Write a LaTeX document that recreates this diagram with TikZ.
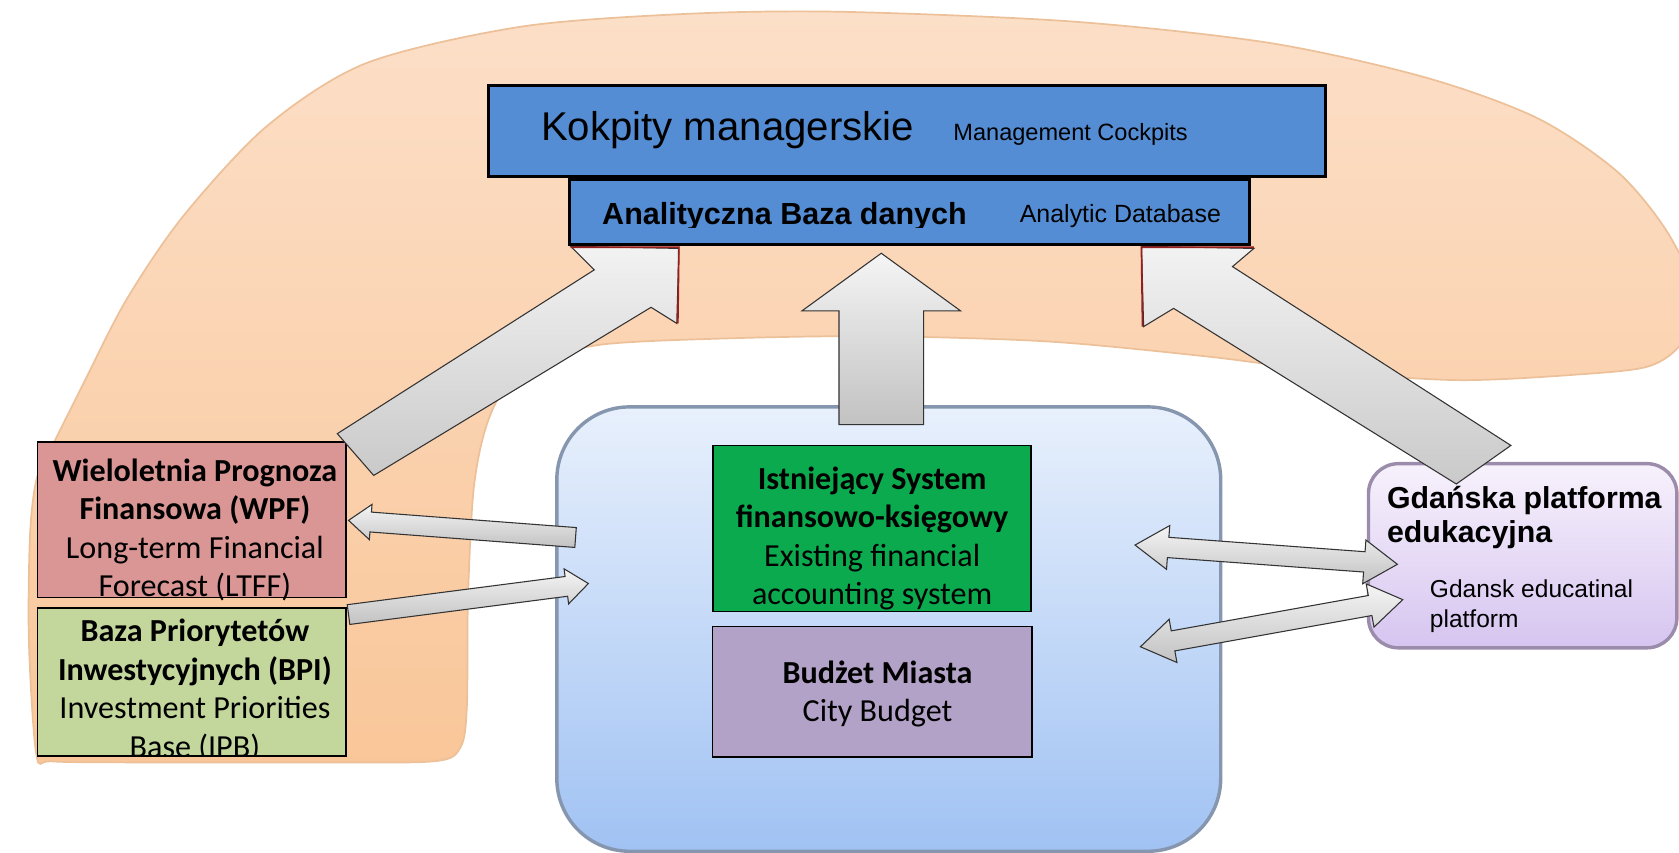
\documentclass[tikz,border=0pt]{standalone}
\usepackage{fontspec}
\setmainfont{Liberation Sans}
\newfontfamily\calibri{Carlito}
\usetikzlibrary{calc}
\usetikzlibrary{positioning}
\usetikzlibrary{shapes.arrows}
\definecolor{barblue}{RGB}{84,141,212}
\definecolor{wpfred}{RGB}{217,150,148}
\definecolor{bpigreen}{RGB}{195,214,155}
\definecolor{sysgreen}{RGB}{12,170,78}
\definecolor{budzetpurple}{RGB}{179,162,199}
\definecolor{peachtop}{RGB}{252,223,200}
\definecolor{peachbot}{RGB}{249,198,152}
\definecolor{peachline}{RGB}{236,192,152}
\definecolor{skytop}{RGB}{232,240,252}
\definecolor{skybot}{RGB}{160,194,243}
\definecolor{skyline}{RGB}{135,150,175}
\definecolor{lilactop}{RGB}{247,241,252}
\definecolor{lilacbot}{RGB}{214,197,240}
\definecolor{lilacline}{RGB}{155,140,172}
\definecolor{cutred}{RGB}{150,30,30}
\tikzset{bluebar/.style={rectangle, draw=black, line width=1.2pt, fill=barblue, inner sep=0pt},
infobox/.style={rectangle, draw=black, line width=0.8pt, inner sep=0pt},
boxtext/.style={inner sep=0pt, align=center, font=\calibri\fontsize{15pt}{18pt}\selectfont},
blob/.style={draw=peachline, line width=0.8pt, top color=peachtop, bottom color=peachbot},
sysframe/.style={rectangle, rounded corners=34pt, draw=skyline, line width=1.6pt,
  top color=skytop, bottom color=skybot, inner sep=0pt},
gdframe/.style={rectangle, rounded corners=14pt, draw=lilacline, line width=1.6pt,
  top color=lilactop, bottom color=lilacbot, inner sep=0pt},
fatarrow/.style={single arrow, draw=black!80, line width=0.5pt, inner xsep=0pt,
  top color=gray!8, bottom color=gray!48, minimum width=0pt},
thinarrow/.style={fatarrow, inner ysep=4.4pt, single arrow head extend=3.6pt,
  single arrow tip angle=77},
twoway/.style={double arrow, draw=black!80, line width=0.5pt, inner xsep=0pt,
  inner ysep=4.5pt, top color=gray!8, bottom color=gray!48, minimum width=0pt,
  double arrow head extend=5.5pt, double arrow tip angle=67},
fatpoly/.style={draw=black!80, line width=0.5pt, top color=gray!10, bottom color=gray!42},
headcut/.style={draw=cutred, line width=0.8pt}}
\newcommand{\blockarrow}[4]{
\path let \p1=($(#4)-(#3)$), \n1={atan2(\y1,\x1)}, \n2={veclen(\x1,\y1)} in
  node (#1) [#2, anchor=tail, rotate=\n1, minimum height=\n2] at (#3) {};
}
\newcommand{\twowayarrow}[4]{
\path let \p1=($(#4)-(#3)$), \n1={atan2(\y1,\x1)}, \n2={veclen(\x1,\y1)} in
  node (#1) [#2, rotate=\n1, minimum height=\n2] at ($(#3)!0.5!(#4)$) {};
}

\begin{document}
\begin{tikzpicture}[x=0.5pt,y=-0.5pt]
  \useasboundingbox (0,0) rectangle (1568,796);

  \draw [blob] plot [smooth cycle, tension=0.5] coordinates {
    (34,705) (27,600) (28,500) (34,448) (47,420) (78,358) (118,280) (171,202)
    (249,118) (342,59) (486,25) (640,13) (785,11) (1000,20) (1185,40)
    (1330,72) (1435,110) (1510,160) (1556,215) (1582,272) (1572,318)
    (1540,342) (1470,350) (1361,355) (1240,347) (1128,333) (980,319)
    (820,314) (680,316) (560,322) (500,340) (468,368) (452,405) (442,460)
    (437,560) (436,660) (430,698) (405,711) (290,712) (120,712) (48,711)};

  \node (system) [sysframe, minimum width=310pt, minimum height=207.5pt] at (830,587.5) {};
  \node (istniejacy) [infobox, fill=sysgreen, minimum width=148.5pt, minimum height=77.5pt] at (814.5,493.5) {};
  \node (budzet) [infobox, fill=budzetpurple, minimum width=149pt, minimum height=61pt, below=6.2pt of istniejacy] {};
  \node (wpf) [infobox, fill=wpfred, minimum width=144pt, minimum height=72.5pt] at (179,485.5) {};
  \node (bpi) [infobox, fill=bpigreen, minimum width=144pt, minimum height=69pt, below=4.2pt of wpf] {};
  \node (gdansk) [gdframe, minimum width=144pt, minimum height=86pt] at (1422,519) {};

  \node (istniejacytext) [boxtext] at ([yshift=-4.75pt]istniejacy.center)
    {\textbf{Istniejący System}\\\textbf{finansowo-księgowy}\\Existing financial\\accounting system};
  \node (budzettext) [boxtext] at ([xshift=2.5pt,yshift=-1pt]budzet.center)
    {\textbf{Budżet Miasta}\\City Budget};
  \node (wpftext) [boxtext] at ([xshift=1.5pt,yshift=-4.75pt]wpf.center)
    {\textbf{Wieloletnia Prognoza}\\\textbf{Finansowa (WPF)}\\Long-term Financial\\Forecast (LTFF)};
  \begin{scope}
    \clip (bpi.north west) rectangle (bpi.south east);
    \node (bpitext) [boxtext] at ([xshift=1.5pt,yshift=-4pt]bpi.center)
      {\textbf{Baza Priorytetów}\\\textbf{Inwestycyjnych (BPI)}\\Investment Priorities\\Base (IPB)};
  \end{scope}
  \node (gdansktitle) [anchor=west, align=left, inner sep=0pt,
    font=\bfseries\fontsize{14.15pt}{16pt}\selectfont] at (1295,483) {Gdańska platforma\\edukacyjna};
  \node (gdansksub) [anchor=west, align=left, inner sep=0pt,
    font=\fontsize{11.45pt}{14pt}\selectfont] at (1335,566) {Gdansk educatinal\\platform};

  % arrows up to the database
  \draw [fatpoly] (315,405) -- (555,252) -- (533,230) -- (634,232) -- (632,302) -- (608,287) -- (349,444) -- cycle;
  \draw [headcut] (533,231) -- (634,231) -- (633,302);
  \draw [fatpoly] (1411,416) -- (1151,249) -- (1171,232) -- (1066,230) -- (1068,305) -- (1096,288) -- (1360,452) -- cycle;
  \draw [headcut] (1171,231) -- (1066,231) -- (1067,305);
  \coordinate (up1s) at (823,397);
  \coordinate (up1e) at (823,237);
  \blockarrow{upmid}{fatarrow, inner ysep=19.5pt, single arrow head extend=17.25pt, single arrow tip angle=108}{up1s}{up1e}

  % side arrows
  \coordinate (arr1s) at (538,502);
  \coordinate (arr1e) at (326,486);
  \coordinate (arr2s) at (325,574);
  \coordinate (arr2e) at (549,545);
  \coordinate (arr3s) at (1060,509);
  \coordinate (arr3e) at (1305,527);
  \coordinate (arr4s) at (1065,604);
  \coordinate (arr4e) at (1310,560);
  \blockarrow{towpf}{thinarrow}{arr1s}{arr1e}
  \blockarrow{frombpi}{thinarrow}{arr2s}{arr2e}
  \twowayarrow{gdlink1}{twoway}{arr3s}{arr3e}
  \twowayarrow{gdlink2}{twoway}{arr4s}{arr4e}

  % management layer
  \node (kokpity) [bluebar, minimum width=391pt, minimum height=42.5pt] at (847,122.5) {};
  \node (analit) [bluebar, minimum width=317.5pt, minimum height=30.5pt, below=0pt of kokpity, xshift=1.25pt] {};
  \node (kokpitytext) [anchor=base west, inner sep=0pt, font=\fontsize{18.75pt}{22pt}\selectfont] at (505,131) {Kokpity managerskie};
  \node (kokpityeng) [anchor=base west, inner sep=0pt, font=\fontsize{11pt}{13pt}\selectfont] at (890,131) {Management Cockpits};
  \begin{scope}
    \clip (analit.north west) rectangle ([yshift=8.5pt]analit.south east);
    \node (analittext) [anchor=base west, inner sep=0pt, font=\bfseries\fontsize{14.25pt}{17pt}\selectfont] at (562,210) {Analityczna Baza danych};
  \end{scope}
  \node (analiteng) [anchor=base west, inner sep=0pt, font=\fontsize{11.65pt}{14pt}\selectfont] at (952,208) {Analytic Database};
\end{tikzpicture}
\end{document}
